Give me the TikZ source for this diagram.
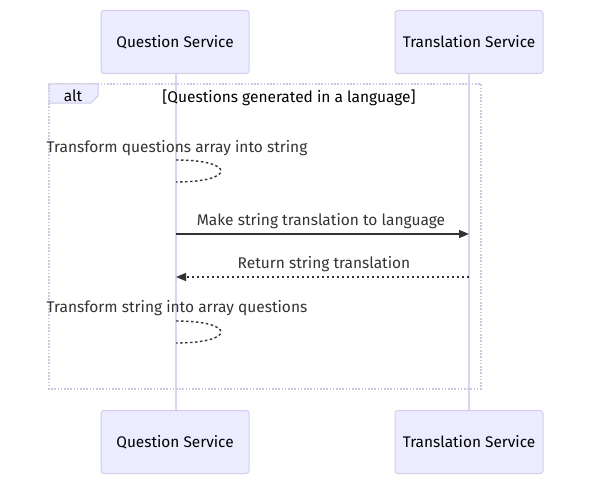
\documentclass[tikz,border=0pt]{standalone}
\usepackage{fontspec}
\setmainfont{Fira Sans}
\usetikzlibrary{arrows.meta}
\definecolor{actfill}{HTML}{ECECFF}
\definecolor{actdraw}{HTML}{D3CBF3}
\definecolor{lifeline}{HTML}{DCD4F6}
\definecolor{frame}{HTML}{CFC6F0}
\definecolor{msgtext}{HTML}{333333}
\begin{document}
\begin{tikzpicture}[x=1pt,y=-1pt,
  actor/.style={draw=actdraw,fill=actfill,line width=1pt,rounded corners=3pt,
    minimum width=148pt,minimum height=63pt,inner sep=0pt,font=\fontsize{15.4}{18}\selectfont,text=black},
  life/.style={draw=lifeline,line width=1.6pt},
  msglabel/.style={font=\fontsize{15.5}{18}\selectfont,text=msgtext,inner sep=0pt},
  msg/.style={draw=msgtext,line width=1.4pt},
  loopline/.style={draw=msgtext,line width=1.4pt,dash pattern=on 2.5pt off 2.5pt},
  tip/.style={-{Triangle[length=10pt,width=8pt]}}
]
\useasboundingbox (0,0) rectangle (601,492);
% actors
\node[actor] (qtop) at (175,42) {Question Service};
\node[actor] (ttop) at (469,42) {Translation Service};
\node[actor] (qbot) at (175,442) {Question Service};
\node[actor] (tbot) at (469,442) {Translation Service};
% lifelines
\draw[life] ([xshift=1pt]qtop.south) -- ([xshift=1pt]qbot.north);
\draw[life] (ttop.south) -- (tbot.north);
% alt frame
\draw[draw=frame,line width=1.6pt,dash pattern=on 1.6pt off 1.6pt] (49,84) rectangle (481,389);
\draw[draw=frame,fill=actfill,line width=1pt] (49,84) -- (98,84) -- (98,96) -- (91,103) -- (49,103) -- cycle;
\node[msglabel,text=black] (altlbl) at (73,96) {alt};
\node[msglabel,text=black] (cond) at (289,98) {[Questions generated in a language]};
% coordinates on lifelines
\coordinate (l1s) at (176,160);
\coordinate (l1e) at (176,182);
\coordinate (m1s) at (176,234);
\coordinate (m1e) at (469,234);
\coordinate (m2s) at (469,277);
\coordinate (m2e) at (176,277);
\coordinate (l2s) at (176,321);
\coordinate (l2e) at (176,343);
% self message 1
\node[msglabel] (t1) at (177,148.5) {Transform questions array into string};
\draw[loopline] (l1s) .. controls (236,160) and (236,182) .. (l1e);
% message 1
\node[msglabel] (t2) at (321,221.5) {Make string translation to language};
\draw[msg,tip] (m1s) -- (m1e);
% message 2
\node[msglabel] (t3) at (324,264.5) {Return string translation};
\draw[loopline,tip] (m2s) -- (m2e);
% self message 2
\node[msglabel] (t4) at (177,308.5) {Transform string into array questions};
\draw[loopline] (l2s) .. controls (236,321) and (236,343) .. (l2e);
\end{tikzpicture}
\end{document}
